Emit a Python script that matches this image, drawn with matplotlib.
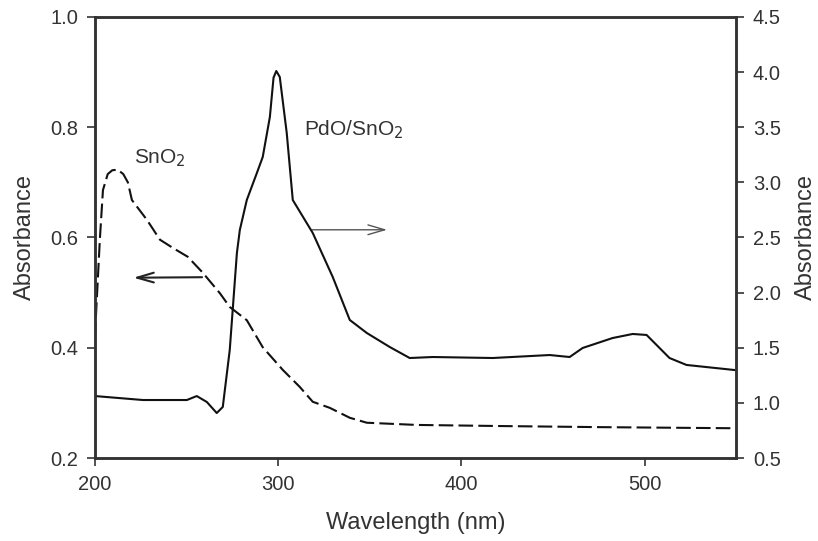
import matplotlib
matplotlib.use("Agg")
import matplotlib.pyplot as plt
from matplotlib.ticker import FormatStrFormatter

plt.rcParams['font.family'] = ['Liberation Sans', 'DejaVu Sans']

# SnO2 (left axis)
sno2_wl = [200, 202.7, 204.4, 207.0, 209.5, 212.5, 215.5, 218.0, 220.2, 228.4, 235.5, 242.6,
           250.7, 258.9, 268.2, 273.6, 282.9, 291.6, 302.5, 311.8, 318.9, 328.2, 339.1, 348.4,
           375.6, 420.9, 475.5, 549]
sno2_abs = [0.420, 0.596, 0.686, 0.715, 0.722, 0.723, 0.715, 0.700, 0.668, 0.632, 0.596, 0.581,
            0.565, 0.536, 0.499, 0.474, 0.450, 0.401, 0.360, 0.329, 0.302, 0.291, 0.273, 0.264,
            0.260, 0.258, 0.256, 0.254]

# PdO/SnO2 (right axis)
pdo_wl = [200, 226.2, 250.2, 255.6, 261.1, 266.5, 269.8, 273.6, 277.5, 279.1, 282.9, 288.4,
          291.6, 295.5, 297.5, 299.0, 300.9, 304.7, 308.0, 318.9, 329.8, 339.1, 348.4, 360.9,
          371.8, 384.4, 417.1, 448.2, 459.1, 466.2, 482.5, 493.5, 501.1, 513.6, 522.9, 549.1]
pdo_abs = [1.062, 1.026, 1.026, 1.062, 1.008, 0.908, 0.963, 1.480, 2.359, 2.568, 2.840, 3.085,
           3.230, 3.593, 3.950, 4.010, 3.956, 3.448, 2.840, 2.541, 2.142, 1.752, 1.634, 1.507,
           1.407, 1.416, 1.407, 1.434, 1.416, 1.498, 1.588, 1.625, 1.616, 1.407, 1.344, 1.298]

x_ticks = [200, 300, 400, 500]
left_ticks = [0.2, 0.4, 0.6, 0.8, 1.0]
right_ticks = [0.5, 1.0, 1.5, 2.0, 2.5, 3.0, 3.5, 4.0, 4.5]

tc = '#333333'
fig = plt.figure(figsize=(8.18, 5.41), dpi=100)
ax = fig.add_axes([0.116, 0.1534, 0.784, 0.8152])
ax2 = ax.twinx()

ax.plot(sno2_wl, sno2_abs, color='#111111', lw=1.5, dashes=(7, 2.5))
ax2.plot(pdo_wl, pdo_abs, color='#111111', lw=1.5)

ax.set_xlim(200, 550)
ax.set_ylim(0.2, 1.0)
ax2.set_ylim(0.5, 4.5)
ax.set_xticks(x_ticks)
ax.set_yticks(left_ticks)
ax2.set_yticks(right_ticks)
ax.yaxis.set_major_formatter(FormatStrFormatter('%.1f'))
ax2.yaxis.set_major_formatter(FormatStrFormatter('%.1f'))

for a in (ax, ax2):
    for s in a.spines.values():
        s.set_linewidth(1.8)
        s.set_color('#333333')
    a.tick_params(direction='out', length=6, width=1.2, colors='#333333',
                  labelsize=14.5, labelcolor=tc, pad=6)

ax.set_xlabel('Wavelength (nm)', fontsize=17, color=tc, labelpad=13)
ax.set_ylabel('Absorbance', fontsize=17, color=tc, labelpad=10)
ax2.set_ylabel('Absorbance', fontsize=17, color=tc, labelpad=10)

# labels
ax.text(235.5, 0.744, 'SnO$_2$', fontsize=15, color=tc, ha='center', va='center',
        math_fontfamily='dejavusans')
ax.text(341.0, 0.795, 'PdO/SnO$_2$', fontsize=15, color=tc, ha='center', va='center',
        math_fontfamily='dejavusans')

# arrows
ax.annotate('', xy=(219.5, 0.527), xytext=(260, 0.528),
            arrowprops=dict(arrowstyle='->,head_length=1.2,head_width=0.35',
                            color='#222222', lw=1.5))
ax.annotate('', xy=(361, 0.614), xytext=(317, 0.614),
            arrowprops=dict(arrowstyle='->,head_length=1.2,head_width=0.35',
                            color='#555555', lw=1.0))

fig.savefig('out.png', dpi=100)
